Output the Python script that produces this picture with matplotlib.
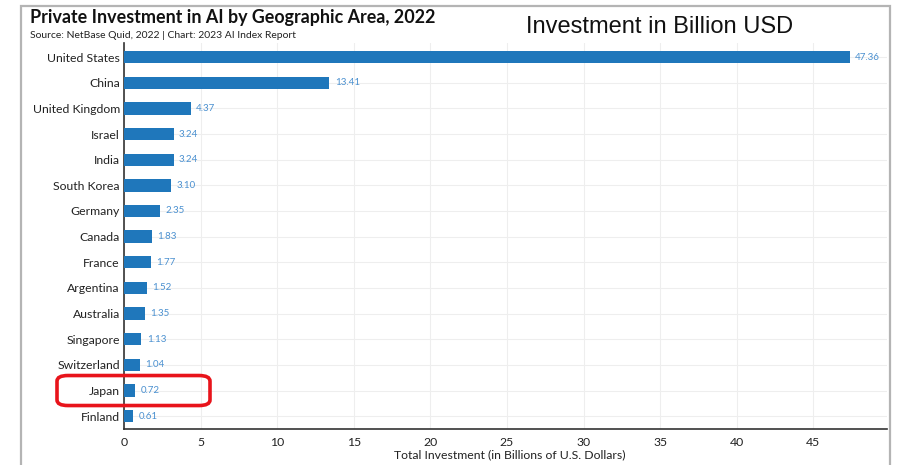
import matplotlib
matplotlib.use("Agg")
import matplotlib.pyplot as plt
from matplotlib.patches import FancyBboxPatch, Rectangle

countries = ["United States", "China", "United Kingdom", "Israel", "India",
             "South Korea", "Germany", "Canada", "France", "Argentina",
             "Australia", "Singapore", "Switzerland", "Japan", "Finland"]
investment = [47.36, 13.41, 4.37, 3.24, 3.24, 3.10, 2.35, 1.83, 1.77, 1.52,
              1.35, 1.13, 1.04, 0.72, 0.61]
x_ticks = [0, 5, 10, 15, 20, 25, 30, 35, 40, 45]
highlight = "Japan"

W, H = 910, 465
fig = plt.figure(figsize=(W / 100, H / 100), dpi=100)
fig.patch.set_facecolor("white")

def fx(px):
    return px / W

def fy(py):
    return 1 - py / H

# outer frame of the chart card
frame = Rectangle((fx(21), fy(470)), fx(890) - fx(21), fy(6) - fy(470),
                  transform=fig.transFigure, fill=False,
                  edgecolor="#b4b4b4", linewidth=1.6, zorder=0)
fig.add_artist(frame)

ax = fig.add_axes([fx(124), fy(429), fx(887) - fx(124), fy(43) - fy(429)])
ypos = list(range(len(countries)))
bar_color = "#1f77bb"
label_color = "#4a90d0"
ax.barh(ypos, investment, height=0.48, color=bar_color, zorder=3)
for y, v in zip(ypos, investment):
    ax.text(v + 0.35, y, f"{v:.2f}", va="center", ha="left",
            fontsize=7, color=label_color, family="Lato")

ax.set_xlim(0, 49.8)
ax.set_ylim(len(countries) - 0.5, -0.55)
ax.set_yticks(ypos)
ax.set_yticklabels(countries, fontsize=8.8, family="Lato", color="#222222")
ax.set_xticks(x_ticks)
ax.set_xticklabels([str(t) for t in x_ticks], fontsize=8.8, family="Lato",
                   color="#222222")
ax.tick_params(axis="y", length=0, pad=3)
ax.tick_params(axis="x", length=0, pad=6)
ax.set_xlabel("Total Investment (in Billions of U.S. Dollars)", fontsize=8.8,
              family="Lato", color="#222222")
ax.xaxis.set_label_coords(0.505, -0.052)
ax.grid(True, color="#eeeeee", linewidth=0.8, zorder=0)
ax.set_axisbelow(True)
for side in ("top", "right"):
    ax.spines[side].set_visible(False)
for side in ("left", "bottom"):
    ax.spines[side].set_color("#333333")
    ax.spines[side].set_linewidth(1.2)

fig.text(fx(30), fy(18), "Private Investment in AI by Geographic Area, 2022",
         fontsize=12.9, fontweight="bold", family="Lato", va="center",
         ha="left", color="#111111")
fig.text(fx(30), fy(35), "Source: NetBase Quid, 2022 | Chart: 2023 AI Index Report",
         fontsize=7.5, family="Lato", va="center", ha="left", color="#222222")
fig.text(fx(660), fy(27), "Investment in Billion USD", fontsize=17,
         family="Liberation Sans", va="center", ha="center", color="#111111")

# red callout around the highlighted country
idx = countries.index(highlight)
ax_h = 429 - 43
row_px = ax_h / (len(countries) - 0.5 + 0.55)
cy = 43 + (idx + 0.55) * row_px
box = FancyBboxPatch((fx(57), fy(cy + 15)), fx(210) - fx(57), fy(cy - 15) - fy(cy + 15),
                     boxstyle="round,pad=0,rounding_size=0.012",
                     transform=fig.transFigure, fill=False,
                     edgecolor="#e8141b", linewidth=2.6, zorder=10)
fig.add_artist(box)

fig.savefig("out.png", dpi=100)
